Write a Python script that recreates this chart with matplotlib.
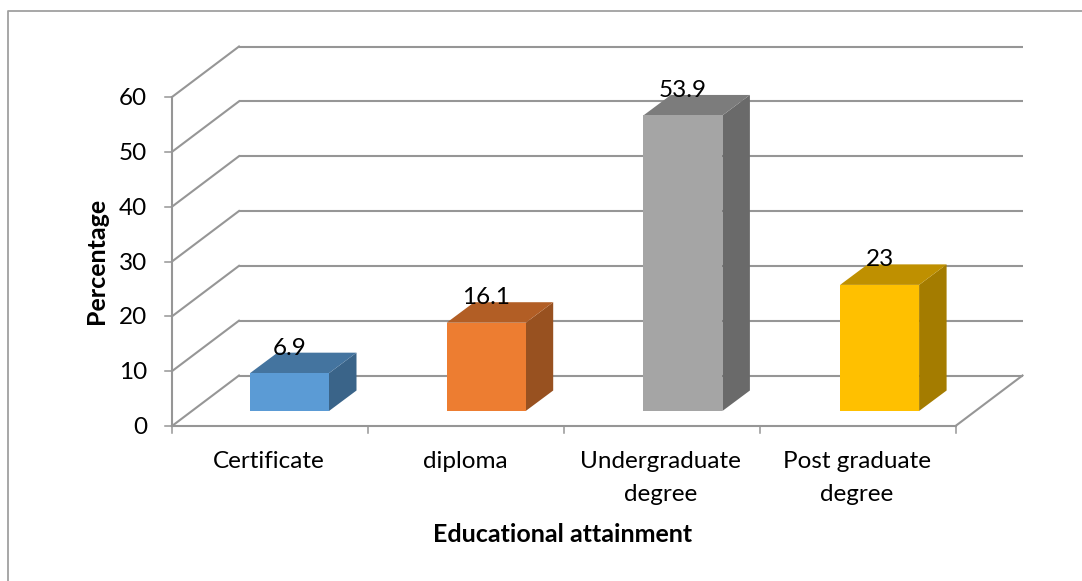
import matplotlib
matplotlib.use("Agg")
import matplotlib.pyplot as plt
from matplotlib.patches import Polygon
from matplotlib.lines import Line2D
from matplotlib.transforms import Affine2D

categories = ["Certificate", "diploma", "Undergraduate\ndegree", "Post graduate\ndegree"]
values = [6.9, 16.1, 53.9, 23]
labels = ["6.9", "16.1", "53.9", "23"]
y_ticks = [0, 10, 20, 30, 40, 50, 60]
front_colors = ["#5B9BD5", "#ED7D31", "#A5A5A5", "#FFC000"]
top_colors = ["#44749F", "#B25E25", "#7C7C7C", "#BF9000"]
side_colors = ["#3A6489", "#985120", "#6A6A6A", "#A47C00"]

W, H = 1082, 581
plt.rcParams["font.family"] = ["Lato", "DejaVu Sans"]
fig = plt.figure(figsize=(W / 100, H / 100), dpi=100, facecolor="white")
L, R, B, T = 172, 955.5, 426, 97
ax = fig.add_axes([L / W, 1 - B / H, (R - L) / W, (B - T) / H])
ax.set_xlim(0, 4)
ax.set_ylim(0, 60)
ax.patch.set_alpha(0)
ax.axis("off")

GRID = "#969696"
LW = 1.5
px_x = (R - L) / 4
px_y = (B - T) / 60
wall_dx, wall_dy = 67, 50.5
wall = ax.transData + Affine2D().translate(wall_dx, wall_dy)

def pt(x, y, dx=0, dy=0):
    return (x + dx / px_x, y + dy / px_y)

for v in y_ticks:
    ax.plot([0, 4], [v, v], transform=wall, color=GRID, lw=LW, clip_on=False, zorder=1,
            solid_capstyle="butt")
    ax.plot(*zip(pt(0, v), pt(0, v, wall_dx, wall_dy)), color=GRID, lw=LW, clip_on=False, zorder=1)
ax.plot(*zip(pt(4, 0), pt(4, 0, wall_dx, wall_dy)), color=GRID, lw=LW, clip_on=False, zorder=1)
ax.plot([0, 4], [0, 0], color=GRID, lw=LW, clip_on=False, zorder=1)
ax.plot([0, 0], [0, 60], color=GRID, lw=LW, clip_on=False, zorder=1)
for v in y_ticks:
    ax.plot(*zip(pt(0, v, -7, 0), pt(0, v)), color=GRID, lw=1.1, clip_on=False, zorder=1)
    ax.text(*pt(0, v, -25, -1.5), str(v), ha="right", va="center", fontsize=17.5, color="black")
for i in range(5):
    ax.plot(*zip(pt(i, 0), pt(i, 0, 0, -7)), color=GRID, lw=1.1, clip_on=False, zorder=1)

bar_w = 79 / px_x
pitch = 196.7 / px_x
first = 78 / px_x
off_y = 15
depth_x, depth_y = 27.5, 20.5
for i, (v, fc, tc, sc) in enumerate(zip(values, front_colors, top_colors, side_colors)):
    x0 = first + i * pitch
    x1 = x0 + bar_w
    ax.add_patch(Polygon([pt(x1, 0, 0, off_y), pt(x1, 0, depth_x, off_y + depth_y),
                          pt(x1, v, depth_x, off_y + depth_y), pt(x1, v, 0, off_y)],
                         fc=sc, ec="none", clip_on=False, zorder=3))
    ax.add_patch(Polygon([pt(x0, v, 0, off_y), pt(x0, v, depth_x, off_y + depth_y),
                          pt(x1, v, depth_x, off_y + depth_y), pt(x1, v, 0, off_y)],
                         fc=tc, ec="none", clip_on=False, zorder=3))
    ax.add_patch(Polygon([pt(x0, 0, 0, off_y), pt(x1, 0, 0, off_y), pt(x1, v, 0, off_y), pt(x0, v, 0, off_y)],
                         fc=fc, ec="none", clip_on=False, zorder=3))
    ax.text(*pt((x0 + x1) / 2, v, 0, off_y + 25), labels[i], ha="center", va="center",
            fontsize=17.5, color="black", zorder=4)

for i, c in enumerate(categories):
    ax.text(*pt(i + 0.5, 0, -1, -24.5), c, ha="center", va="top", fontsize=17.5, color="black", linespacing=1.72)

fig.text(563 / W, 1 - 534 / H, "Educational attainment", ha="center", va="center",
         fontsize=18, fontweight="bold", color="black")
fig.text(96 / W, 1 - 261 / H, "Percentage", ha="center", va="center", rotation=90,
         fontsize=18, fontweight="bold", color="black")

fig.add_artist(Line2D([7.5 / W, 7.5 / W, 1], [0, 1 - 10.5 / H, 1 - 10.5 / H],
                      transform=fig.transFigure, color="#A0A0A0", lw=1.3))
fig.savefig("out.png", dpi=100)
